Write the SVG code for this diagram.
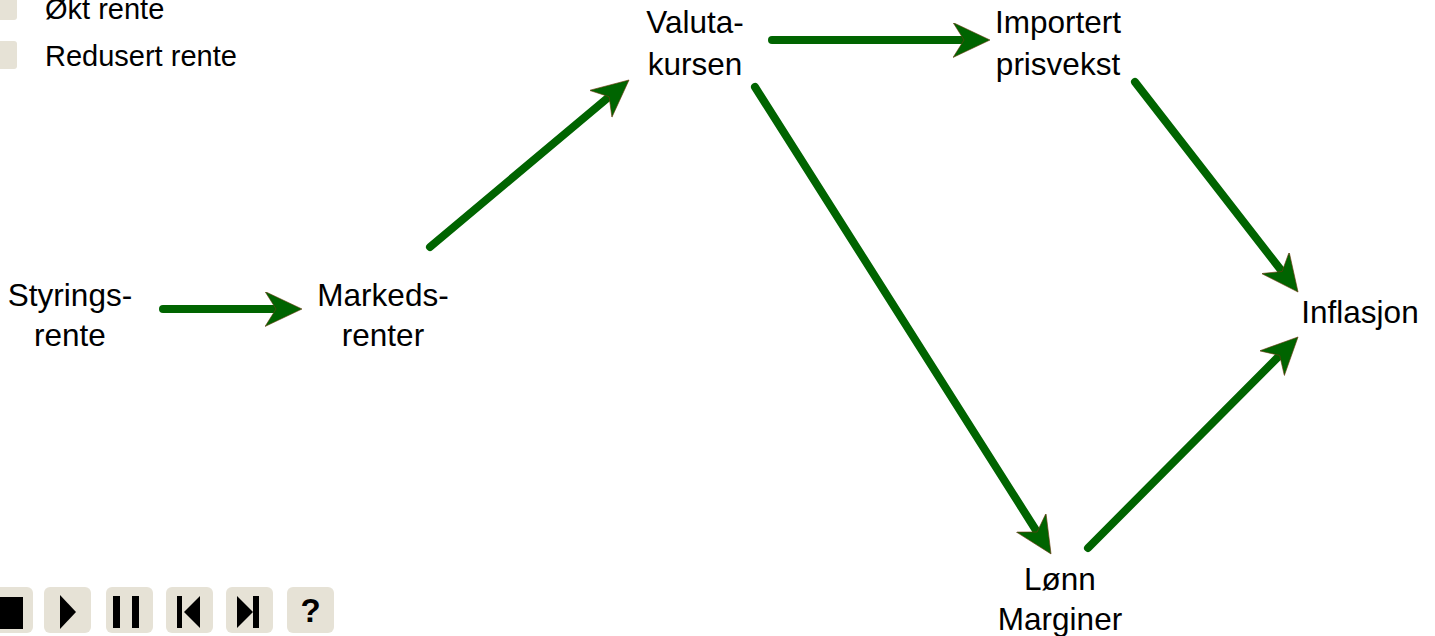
<svg xmlns="http://www.w3.org/2000/svg" width="1435" height="636" viewBox="0 0 1435 636">
<style>
.t{font-family:"Liberation Sans",Arial,sans-serif;font-size:31.5px;fill:#000;}
.lg{font-family:"Liberation Sans",Arial,sans-serif;font-size:29px;fill:#000;}
.c{text-anchor:middle;}
.ln{stroke:#006400;stroke-width:8;stroke-linecap:round;fill:none;marker-end:url(#ah);}
.btn{fill:#e6e2d6;}
.ic{fill:#000;}
</style>
<defs>
<marker id="ah" markerUnits="userSpaceOnUse" markerWidth="38" markerHeight="36" viewBox="0 0 38 36" refX="11" refY="17.5" orient="auto">
<path d="M0,0 L37,17.5 L0,35 L11,17.5 Z" fill="#006400" stroke="#6b3a10" stroke-width="0.6" stroke-linejoin="miter"/>
</marker>
</defs>
<rect width="1435" height="636" fill="#fff"/>
<g id="legend">
<rect class="btn" x="-12" y="-8" width="29" height="28" rx="3"/>
<text class="lg" x="45" y="19">Økt rente</text>
<rect class="btn" x="-12" y="41" width="29" height="28" rx="3"/>
<text class="lg" x="45" y="66">Redusert rente</text>
</g>
<g id="connectors">
<line class="ln" x1="163" y1="309" x2="276" y2="309"/>
<line class="ln" x1="430" y1="247" x2="609.1" y2="96.7"/>
<line class="ln" x1="772" y1="40" x2="964" y2="40"/>
<line class="ln" x1="755" y1="87" x2="1037.1" y2="532"/>
<line class="ln" x1="1135" y1="82" x2="1282.1" y2="271.5"/>
<line class="ln" x1="1088" y1="548" x2="1279.7" y2="355.4"/>
</g>
<g id="styringsrente"><text class="t c" x="70" y="306">Styrings-</text><text class="t c" x="70" y="346">rente</text></g>
<g id="markedsrenter"><text class="t c" x="383" y="306">Markeds-</text><text class="t c" x="383" y="346">renter</text></g>
<g id="valutakursen"><text class="t c" x="695" y="33">Valuta-</text><text class="t c" x="695" y="75">kursen</text></g>
<g id="importert"><text class="t c" x="1058" y="33">Importert</text><text class="t c" x="1058" y="75">prisvekst</text></g>
<g id="lonn"><text class="t c" x="1060" y="590">Lønn</text><text class="t c" x="1060" y="630">Marginer</text></g>
<g id="inflasjon"><text class="t c" x="1360" y="323">Inflasjon</text></g>
<g id="controls">
<rect class="btn" x="-14" y="587" width="47" height="46" rx="6"/>
<rect class="ic" x="-9" y="597" width="32" height="32"/>
<rect class="btn" x="44" y="587" width="47" height="46" rx="6"/>
<path class="ic" d="M60,595 L76,612 L60,629 Z"/>
<rect class="btn" x="106" y="587" width="47" height="46" rx="6"/>
<rect class="ic" x="113" y="596" width="7" height="32"/>
<rect class="ic" x="132" y="596" width="7" height="32"/>
<rect class="btn" x="166" y="587" width="47" height="46" rx="6"/>
<rect class="ic" x="177" y="596" width="5" height="32"/>
<path class="ic" d="M200,596 L184,612 L200,628 Z"/>
<rect class="btn" x="226" y="587" width="47" height="46" rx="6"/>
<path class="ic" d="M237,596 L253,612 L237,628 Z"/>
<rect class="ic" x="253" y="596" width="6" height="32"/>
<rect class="btn" x="287" y="587" width="47" height="46" rx="6"/>
<text class="t c" x="310.5" y="622" style="font-weight:bold;font-size:33px">?</text>
</g>
</svg>
